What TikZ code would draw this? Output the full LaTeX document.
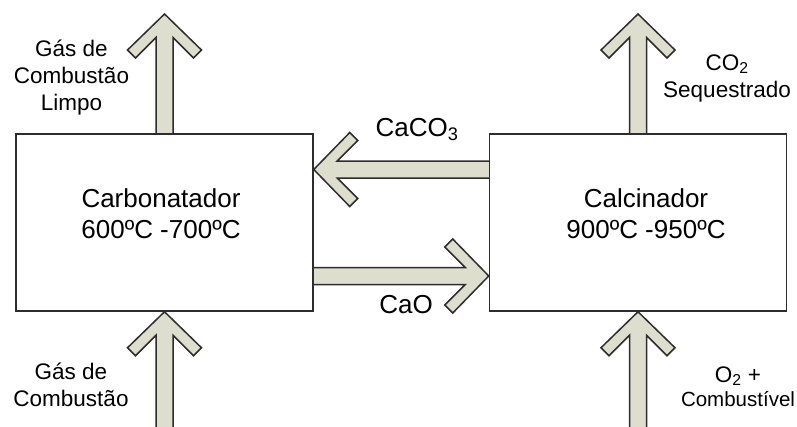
\documentclass[tikz,border=0pt]{standalone}
\usepackage{fontspec}
\setmainfont{Liberation Sans}
\usepackage{xcolor}
\usetikzlibrary{calc,backgrounds}
\definecolor{flowfill}{RGB}{221,222,205}
\definecolor{flowline}{RGB}{45,45,45}

\begin{document}
\begin{tikzpicture}[
  x=1pt, y=-1pt,
  reactor/.style={
    draw=flowline,
    line width=1.5pt,
    fill=white,
    minimum width=297pt,
    minimum height=177pt,
    inner sep=0pt
  },
  bigtext/.style={align=center, inner sep=0pt, anchor=base, font=\fontsize{26}{31}\selectfont},
  streamlabel/.style={align=center, inner sep=0pt, anchor=base, font=\fontsize{22.5}{27}\selectfont},
  flow/.style={
    draw=flowline, line width=1.5pt, fill=flowfill,
    to path={
      let \p1=($(\tikztotarget)-(\tikztostart)$),
          \n1={veclen(\x1,\y1)}, \n2={atan2(\y1,\x1)} in
      [shift={(\tikztostart)}, rotate=\n2]
      (0,8.5) -- (\n1-23.5,8.5) -- (\n1-44,29) -- (\n1-36,37) -- (\n1,0)
      -- (\n1-36,-37) -- (\n1-44,-29) -- (\n1-23.5,-8.5) -- (0,-8.5)
    }
  }
]
  \useasboundingbox (0,0) rectangle (797,426);

  \node[reactor] (carb) at (164.5,222.5) {};
  \node[reactor] (calc) at (638,222.5) {};
  \node[bigtext] (carbtxt) at (161,238) {Carbonatador\\600ºC -700ºC};
  \node[bigtext] (calctxt) at (646,238) {Calcinador\\900ºC -950ºC};

  \coordinate (cleanout) at (164.5,14);
  \coordinate (fluein) at (164.5,428);
  \coordinate (co2out) at (638,14);
  \coordinate (fuelin) at (638,428);
  \coordinate (upper) at (400,169.5);
  \coordinate (lower) at (400,276);

  \begin{scope}[on background layer]
    \draw[flow] (carb.north) to (cleanout);
    \draw[flow] (fluein) to (carb.south);
    \draw[flow] (calc.north) to (co2out);
    \draw[flow] (fuelin) to (calc.south);
    \draw[flow] (calc.west |- upper) to (carb.east |- upper);
    \draw[flow] (carb.east |- lower) to (calc.west |- lower);
  \end{scope}

  \node[streamlabel] (cleanlbl) at (71.5,110) {Gás de\\Combustão\\Limpo};
  \node[streamlabel] (fluelbl) at (71,406) {Gás de\\Combustão};
  \node[streamlabel] (co2lbl) at (727,97) {CO\textsubscript{2}\\Sequestrado};
  \node[streamlabel] (o2lbl) at (738,406) {O\textsubscript{2} +\\[-3pt]{\fontsize{20.5}{27}\selectfont Combustível}};
  \node[bigtext] (caco3lbl) at (417,136.7) {CaCO\textsubscript{3}};
  \node[bigtext] (caolbl) at (406,313) {CaO};
\end{tikzpicture}
\end{document}
